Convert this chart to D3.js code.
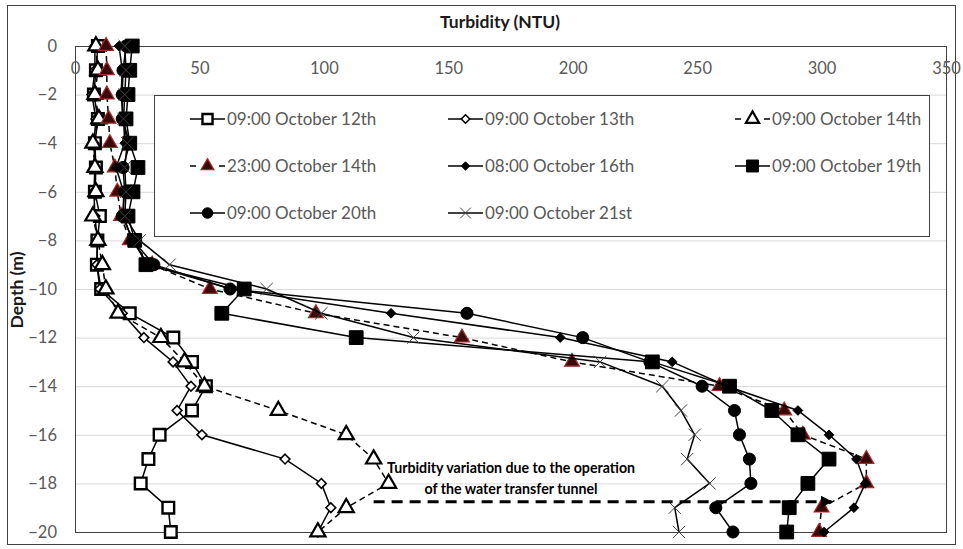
<!DOCTYPE html>
<html>
<head>
<meta charset="utf-8">
<script src="https://cdn.jsdelivr.net/npm/d3@7"></script>
<style>
  html, body { margin: 0; padding: 0; background: #fff; }
  svg { display: block; font-family: Lato, "Open Sans", sans-serif; }
</style>
</head>
<body>
<svg id="chart" width="963" height="549"></svg>
<script>
// Depth of each sample (m)
const depths = [0, -1, -2, -3, -4, -5, -6, -7, -8, -9, -10, -11, -12, -13, -14, -15, -16, -17, -18, -19, -20];

// Turbidity profiles (NTU), one value per depth
const oct12 = [9.2, 8.4, 7.6, 9.2, 8.0, 8.4, 8.0, 10.0, 9.0, 8.8, 10.5, 22.0, 39.5, 47.0, 52.6, 47.0, 34.0, 29.5, 26.4, 37.5, 38.5];
const oct13 = [8.0, 8.0, 6.8, 8.4, 7.6, 8.0, 7.6, 8.0, 9.0, 8.8, 10.0, 19.0, 27.7, 39.4, 46.6, 41.0, 51.0, 84.4, 99.0, 102.8, 97.6];
const oct14 = [8.4, 9.2, 8.0, 9.6, 7.2, 8.0, 8.4, 7.2, 9.2, 11.0, 12.4, 17.3, 34.5, 44.0, 52.0, 81.7, 109.0, 120.0, 126.0, 109.0, 97.6];
const oct14Night = [12.5, 12.8, 12.8, 13.5, 14.0, 16.0, 17.0, 18.5, 22.0, 31.0, 54.2, 96.8, 155.5, 199.7, 259.0, 285.0, 292.5, 318.0, 318.0, 300.0, 299.0];
const oct16 = [17.7, 19.0, 18.5, 19.5, 20.0, 16.5, 19.5, 19.5, 23.0, 29.5, 63.0, 127.0, 195.0, 240.0, 262.0, 290.5, 303.0, 314.0, 317.6, 313.0, 301.0];
const oct19 = [23.0, 22.0, 21.3, 20.5, 22.0, 25.3, 23.3, 21.3, 24.0, 28.5, 68.0, 59.0, 113.0, 232.0, 263.0, 280.0, 290.5, 303.0, 294.5, 287.0, 286.0];
const oct20 = [20.5, 19.3, 19.0, 19.0, 22.0, 19.3, 20.0, 19.0, 23.3, 31.7, 62.3, 157.5, 204.0, 231.0, 252.0, 265.0, 267.0, 271.0, 271.6, 257.5, 264.4];
const oct21 = [20.0, 20.5, 20.0, 19.5, 21.0, 20.0, 20.5, 20.0, 26.0, 38.0, 77.0, 99.0, 136.0, 211.0, 236.0, 243.5, 249.0, 246.0, 255.0, 241.0, 242.7];

const seriesNames = ["09:00 October 12th", "09:00 October 13th", "09:00 October 14th",
                     "23:00 October 14th", "08:00 October 16th", "09:00 October 19th",
                     "09:00 October 20th", "09:00 October 21st"];

const xTicks = [0, 50, 100, 150, 200, 250, 300, 350];
const yTicks = [0, -2, -4, -6, -8, -10, -12, -14, -16, -18, -20];

const xTitle = "Turbidity (NTU)";
const yTitle = "Depth (m)";
const noteLines = ["Turbidity variation due to the operation", "of the water transfer tunnel"];
// Arrow marks the shift at the tunnel depth: from, to (NTU) at depth (m)
const arrowFrom = 120, arrowTo = 304, arrowDepth = -18.75;

// ---- drawing ----
const svg = d3.select("#chart");
const plot = { left: 75, right: 946, top: 46, bottom: 532 };
const x = d3.scaleLinear().domain([0, 350]).range([plot.left, plot.right]);
const y = d3.scaleLinear().domain([0, -20]).range([plot.top, plot.bottom]);

// chart frame
svg.append("rect").attr("x", 7.5).attr("y", 5.5).attr("width", 948).attr("height", 539)
  .attr("fill", "#fff").attr("stroke", "#404040").attr("stroke-width", 1);

// horizontal gridlines
svg.append("g").selectAll("line").data(yTicks.filter(t => t !== 0 && t !== -20)).join("line")
  .attr("x1", plot.left).attr("x2", plot.right)
  .attr("y1", d => y(d) + 0.5).attr("y2", d => y(d) + 0.5)
  .attr("stroke", "#d9d9d9").attr("stroke-width", 1);

// plot border
svg.append("rect").attr("x", plot.left + 0.5).attr("y", plot.top + 0.5)
  .attr("width", plot.right - plot.left).attr("height", plot.bottom - plot.top)
  .attr("fill", "none").attr("stroke", "#404040").attr("stroke-width", 1);

// x axis along the top (depth 0)
const xAxis = d3.axisBottom(x).tickValues(xTicks).tickSize(0).tickPadding(16);
const gx = svg.append("g").attr("transform", `translate(0,${plot.top})`).call(xAxis);
gx.select(".domain").remove();
gx.selectAll("text").attr("fill", "#595959").style("font-size", "16.5px").style("font-family", "Lato, sans-serif");

// y axis
const yAxis = d3.axisLeft(y).tickValues(yTicks).tickSize(0).tickPadding(18).tickFormat(d3.format("d"));
const gy = svg.append("g").attr("transform", `translate(${plot.left},0)`).call(yAxis);
gy.select(".domain").remove();
gy.selectAll("text").attr("fill", "#595959").style("font-size", "16.5px").style("font-family", "Lato, sans-serif");

// axis titles
svg.append("text").attr("x", 500).attr("y", 28).attr("text-anchor", "middle")
  .style("font-size", "17.5px").style("font-weight", "bold").attr("fill", "#1a1a1a").text(xTitle);
svg.append("text").attr("transform", `translate(23,${290}) rotate(-90)`).attr("text-anchor", "middle")
  .style("font-size", "17.5px").style("font-weight", "bold").attr("fill", "#1a1a1a").text(yTitle);

// marker shapes
const sym = {
  openSquare:   { type: d3.symbolSquare,   size: 135, fill: "#fff", stroke: "#000", sw: 2.4 },
  openDiamond:  { type: d3.symbolDiamond2, size: 60,  fill: "#fff", stroke: "#000", sw: 1.6 },
  openTriangle: { type: d3.symbolTriangle, size: 100, fill: "#fff", stroke: "#000", sw: 2.2 },
  redTriangle:  { type: d3.symbolTriangle, size: 95,  fill: "#3a0a0a", stroke: "#a52a2a", sw: 1.2 },
  fillDiamond:  { type: d3.symbolDiamond2, size: 60,  fill: "#000", stroke: "#000", sw: 1 },
  fillSquare:   { type: d3.symbolSquare,   size: 190, fill: "#000", stroke: "#000", sw: 1 },
  circle:       { type: d3.symbolCircle,   size: 115, fill: "#000", stroke: "#000", sw: 1 },
  cross:        { type: d3.symbolX,        size: 100, fill: "none", stroke: "#404040", sw: 1 }
};

const series = [
  { name: seriesNames[0], values: oct12, marker: sym.openSquare, dash: null },
  { name: seriesNames[1], values: oct13, marker: sym.openDiamond, dash: null },
  { name: seriesNames[2], values: oct14, marker: sym.openTriangle, dash: "6,4" },
  { name: seriesNames[3], values: oct14Night, marker: sym.redTriangle, dash: "6,4" },
  { name: seriesNames[4], values: oct16, marker: sym.fillDiamond, dash: null },
  { name: seriesNames[5], values: oct19, marker: sym.fillSquare, dash: null },
  { name: seriesNames[6], values: oct20, marker: sym.circle, dash: null },
  { name: seriesNames[7], values: oct21, marker: sym.cross, dash: null }
];

const line = d3.line().x(d => x(d.v)).y(d => y(d.d));

function drawMarker(g, m, cx, cy) {
  g.append("path").attr("d", d3.symbol().type(m.type).size(m.size)())
    .attr("transform", `translate(${cx},${cy})`)
    .attr("fill", m.fill).attr("stroke", m.stroke).attr("stroke-width", m.sw);
}

const gSeries = svg.append("g");
series.forEach(s => {
  const pts = s.values.map((v, i) => ({ v, d: depths[i] }));
  const g = gSeries.append("g");
  g.append("path").datum(pts).attr("d", line).attr("fill", "none")
    .attr("stroke", "#000").attr("stroke-width", 1.5)
    .attr("stroke-dasharray", s.dash);
  pts.forEach(p => drawMarker(g, s.marker, x(p.v), y(p.d)));
});

// legend
const lg = svg.append("g");
lg.append("rect").attr("x", 154.5).attr("y", 95.5).attr("width", 775).attr("height", 141)
  .attr("fill", "#fff").attr("stroke", "#404040").attr("stroke-width", 1);
const legendCols = [190, 448, 735];
const legendRows = [119, 166, 213];
series.forEach((s, i) => {
  const lx = legendCols[i % 3], ly = legendRows[Math.floor(i / 3)];
  const g = lg.append("g");
  g.append("line").attr("x1", lx).attr("x2", lx + 35).attr("y1", ly).attr("y2", ly)
    .attr("stroke", "#000").attr("stroke-width", 1.5).attr("stroke-dasharray", s.dash ? "6,23,6" : null);
  const m = Object.assign({}, s.marker, { size: s.marker.size * 0.75 });
  drawMarker(g, m, lx + 17.5, ly);
  g.append("text").attr("x", lx + 37).attr("y", ly).attr("dy", "0.35em")
    .attr("fill", "#595959").style("font-size", "17px").text(s.name);
});

// annotation
svg.append("defs").append("marker").attr("id", "arrowhead")
  .attr("viewBox", "0 0 10 10").attr("refX", 9).attr("refY", 5)
  .attr("markerWidth", 4).attr("markerHeight", 4).attr("orient", "auto")
  .append("path").attr("d", "M0,0 L10,5 L0,10 z").attr("fill", "#000");
svg.append("line").attr("x1", x(arrowFrom)).attr("x2", x(arrowTo))
  .attr("y1", y(arrowDepth)).attr("y2", y(arrowDepth))
  .attr("stroke", "#000").attr("stroke-width", 3).attr("stroke-dasharray", "11,7")
  .attr("marker-end", "url(#arrowhead)");
const note = svg.append("text").attr("text-anchor", "middle")
  .style("font-size", "14.2px").style("font-weight", "bold").attr("fill", "#000");
noteLines.forEach((t, i) => {
  note.append("tspan").attr("x", 511).attr("y", 473 + i * 21).text(t);
});
</script>
</body>
</html>
